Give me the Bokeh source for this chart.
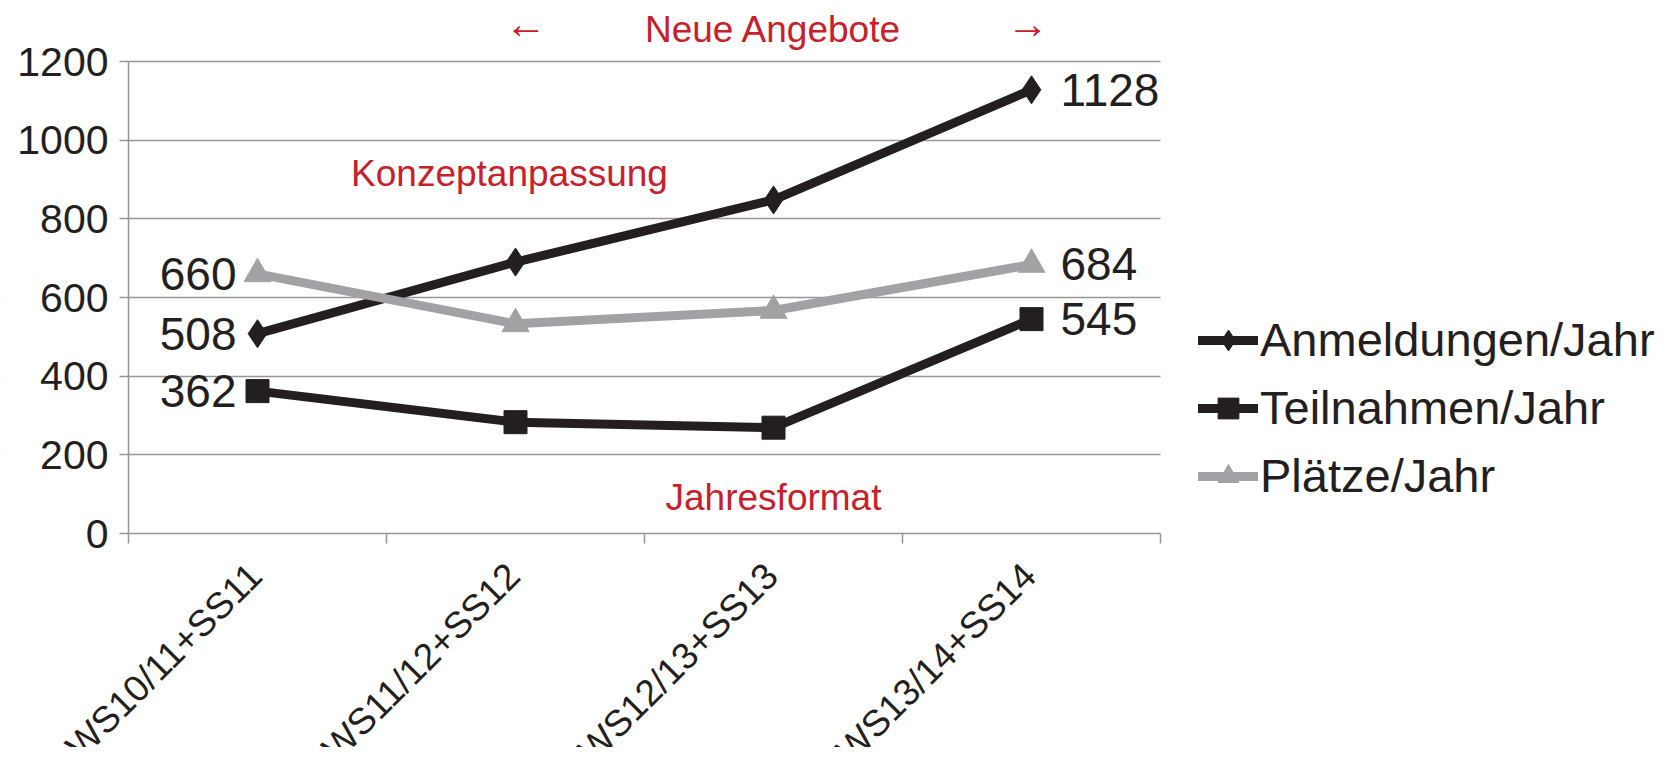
import math
from bokeh.plotting import figure
from bokeh.models import (ColumnDataSource, FixedTicker, LabelSet, Label,
                          Legend, LegendItem, Range1d, BoxAnnotation)
from bokeh.embed import file_html
from bokeh.resources import INLINE
from bokeh.core.properties import value

# ---------------- data ----------------
categories = ["WS10/11+SS11", "WS11/12+SS12", "WS12/13+SS13", "WS13/14+SS14"]
anmeldungen = [508, 690, 848, 1128]
teilnahmen = [362, 283, 269, 545]
plaetze = [660, 533, 567, 684]
series_names = ["Anmeldungen/Jahr", "Teilnahmen/Jahr", "Plätze/Jahr"]
y_ticks = [0, 200, 400, 600, 800, 1000, 1200]
notes_top = ["←", "Neue Angebote", "→"]
note_mid = "Konzeptanpassung"
note_low = "Jahresformat"

# ---------------- style / layout ----------------
FONT = "Liberation Sans"
INK = "#231f20"
GRAY = "#a2a2a5"
AXIS = "#969696"
RED = "#c8202a"

n = len(categories)
xs = [i + 0.5 for i in range(n)]
bounds = list(range(n + 1))

FRAME_W, FRAME_H = 1185, 747
AX_X, PX_X = 128, 258            # y-axis position, px per category
AX_TOP, AX_BOT = 61, 533         # pixel rows of top and bottom ticks
PX_Y = (AX_BOT - AX_TOP) / (y_ticks[-1] - y_ticks[0])
x_start = -AX_X / PX_X
x_end = (FRAME_W - AX_X) / PX_X
y_top = y_ticks[-1] + AX_TOP / PX_Y
y_bot = y_ticks[0] - (FRAME_H - AX_BOT) / PX_Y

p = figure(frame_width=FRAME_W, frame_height=FRAME_H,
           x_range=Range1d(x_start, x_end), y_range=Range1d(y_bot, y_top),
           output_backend="svg", toolbar_location=None,
           min_border_left=0, min_border_right=1658 - FRAME_W,
           min_border_top=0, min_border_bottom=0)
p.outline_line_color = None
p.background_fill_color = "white"
p.border_fill_color = "white"

# grid (hidden outside the category span by white boxes)
p.xgrid.grid_line_color = None
p.ygrid.ticker = FixedTicker(ticks=y_ticks[1:])
p.ygrid.grid_line_color = AXIS
p.ygrid.grid_line_width = 1.5
p.add_layout(BoxAnnotation(left=x_start - 1, right=bounds[0],
                           fill_color="white", fill_alpha=1,
                           line_color=None, level="underlay"))
p.add_layout(BoxAnnotation(left=bounds[-1], right=x_end + 1,
                           fill_color="white", fill_alpha=1,
                           line_color=None, level="underlay"))

# axes
p.yaxis.fixed_location = bounds[0]
p.yaxis.bounds = (y_ticks[0], y_ticks[-1])
p.yaxis.ticker = FixedTicker(ticks=y_ticks)
p.yaxis.axis_line_color = AXIS
p.yaxis.axis_line_width = 1.5
p.yaxis.major_tick_line_color = AXIS
p.yaxis.major_tick_line_width = 1.5
p.yaxis.major_tick_out = 9
p.yaxis.major_tick_in = 0
p.yaxis.minor_tick_line_color = None
p.yaxis.major_label_text_font = FONT
p.yaxis.major_label_text_font_size = "41px"
p.yaxis.major_label_text_color = INK
p.yaxis.major_label_standoff = 11

# x axis: category boundaries as (label-free) minor ticks
p.xaxis.fixed_location = y_ticks[0]
p.xaxis.bounds = (bounds[0], bounds[-1])
p.xaxis.ticker = FixedTicker(ticks=[], minor_ticks=bounds)
p.xaxis.axis_line_color = AXIS
p.xaxis.axis_line_width = 1.5
p.xaxis.major_tick_line_color = None
p.xaxis.minor_tick_line_color = AXIS
p.xaxis.minor_tick_line_width = 1.5
p.xaxis.minor_tick_out = 10
p.xaxis.minor_tick_in = 0

# series
a_line = p.line(xs, anmeldungen, line_color=INK, line_width=9,
                line_join="round", line_cap="round")
a_mark = p.scatter(xs, anmeldungen, marker="diamond", size=28,
                   fill_color=INK, line_color=INK)
t_line = p.line(xs, teilnahmen, line_color=INK, line_width=9,
                line_join="round", line_cap="round")
t_mark = p.scatter(xs, teilnahmen, marker="square", size=23,
                   fill_color=INK, line_color=INK)
pl_line = p.line(xs, plaetze, line_color=GRAY, line_width=9,
                 line_join="round", line_cap="round")
pl_mark = p.scatter(xs, plaetze, marker="triangle", size=27,
                    fill_color=GRAY, line_color=GRAY)

# data labels (first and last point)
first_src = ColumnDataSource(dict(
    x=[xs[0]] * 3,
    y=[anmeldungen[0], teilnahmen[0], plaetze[0]],
    t=[str(anmeldungen[0]), str(teilnahmen[0]), str(plaetze[0])]))
last_src = ColumnDataSource(dict(
    x=[xs[-1]] * 3,
    y=[anmeldungen[-1], teilnahmen[-1], plaetze[-1]],
    t=[str(anmeldungen[-1]), str(teilnahmen[-1]), str(plaetze[-1])]))
p.add_layout(LabelSet(x="x", y="y", text="t", source=first_src,
                      text_align="right", text_baseline="middle",
                      x_offset=-21, text_font=value(FONT),
                      text_font_size="46px", text_color=INK))
p.add_layout(LabelSet(x="x", y="y", text="t", source=last_src,
                      text_align="left", text_baseline="middle",
                      x_offset=29, text_font=value(FONT),
                      text_font_size="46px", text_color=INK))

# category labels (rotated)
cat_src = ColumnDataSource(dict(x=xs, y=[y_ticks[0]] * n, t=categories))
p.add_layout(LabelSet(x="x", y="y", text="t", source=cat_src,
                      angle=math.pi / 4, text_align="right",
                      text_baseline="middle", x_offset=-2, y_offset=-36,
                      text_font=value(FONT), text_font_size="37px",
                      text_color=INK))

# red annotations
top_y = 1281
arrow_dx = [10, 0, -4]
arrow_dy = [6, 0, 6]
arrow_fs = ["42px", "37px", "42px"]
for xv, txt, dx, dy, fs in zip([xs[1], xs[2], xs[3]], notes_top,
                               arrow_dx, arrow_dy, arrow_fs):
    p.add_layout(Label(x=xv, y=top_y, text=txt, x_offset=dx, y_offset=dy,
                       text_align="center", text_baseline="middle",
                       text_font=FONT, text_font_size=fs, text_color=RED))
p.add_layout(Label(x=xs[1], y=915, text=note_mid, x_offset=-6,
                   text_align="center", text_baseline="middle",
                   text_font=FONT, text_font_size="37px", text_color=RED))
p.add_layout(Label(x=xs[2], y=92, text=note_low, text_align="center",
                   text_baseline="middle", text_font=FONT,
                   text_font_size="37px", text_color=RED))

# legend
legend = Legend(items=[
    LegendItem(label=series_names[0], renderers=[a_line, a_mark]),
    LegendItem(label=series_names[1], renderers=[t_line, t_mark]),
    LegendItem(label=series_names[2], renderers=[pl_line, pl_mark]),
], location=(13, 244))
legend.background_fill_alpha = 0
legend.border_line_color = None
legend.label_text_font = FONT
legend.label_text_font_size = "47px"
legend.label_text_color = INK
legend.glyph_width = 60
legend.glyph_height = 52
legend.label_standoff = 2
legend.spacing = 13
legend.padding = 0
legend.margin = 0
p.add_layout(legend, "right")

open("out.html", "w").write(file_html(p, INLINE))
